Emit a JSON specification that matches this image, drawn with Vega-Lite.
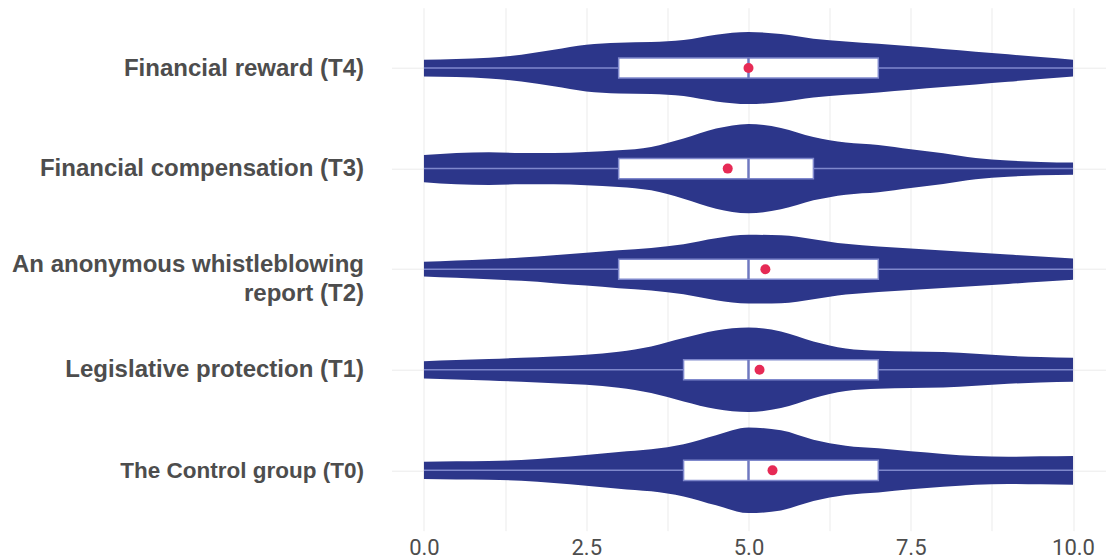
{
  "$schema": "https://vega.github.io/schema/vega-lite/v6.json",
  "width": 714,
  "height": 523,
  "autosize": {"type": "none"},
  "padding": {"left": 391.5, "top": 7.7, "right": 0, "bottom": 29.3},
  "background": "white",
  "config": {
    "view": {"stroke": null},
    "axis": {"gridColor": "#ebebeb", "gridWidth": 1, "domain": false, "ticks": false, "title": null}
  },
  "datasets": {
    "violin": [
      {"group": "Financial reward (T4)", "v": 0, "w": 0.083},
      {"group": "Financial reward (T4)", "v": 0.5, "w": 0.090},
      {"group": "Financial reward (T4)", "v": 1, "w": 0.103},
      {"group": "Financial reward (T4)", "v": 1.5, "w": 0.133},
      {"group": "Financial reward (T4)", "v": 2, "w": 0.182},
      {"group": "Financial reward (T4)", "v": 2.5, "w": 0.232},
      {"group": "Financial reward (T4)", "v": 3, "w": 0.252},
      {"group": "Financial reward (T4)", "v": 3.5, "w": 0.259},
      {"group": "Financial reward (T4)", "v": 4, "w": 0.279},
      {"group": "Financial reward (T4)", "v": 4.5, "w": 0.332},
      {"group": "Financial reward (T4)", "v": 5, "w": 0.358},
      {"group": "Financial reward (T4)", "v": 5.5, "w": 0.338},
      {"group": "Financial reward (T4)", "v": 6, "w": 0.292},
      {"group": "Financial reward (T4)", "v": 6.5, "w": 0.265},
      {"group": "Financial reward (T4)", "v": 7, "w": 0.242},
      {"group": "Financial reward (T4)", "v": 7.5, "w": 0.216},
      {"group": "Financial reward (T4)", "v": 8, "w": 0.189},
      {"group": "Financial reward (T4)", "v": 8.5, "w": 0.163},
      {"group": "Financial reward (T4)", "v": 9, "w": 0.136},
      {"group": "Financial reward (T4)", "v": 9.5, "w": 0.109},
      {"group": "Financial reward (T4)", "v": 10, "w": 0.083},
      {"group": "Financial compensation (T3)", "v": 0, "w": 0.136},
      {"group": "Financial compensation (T3)", "v": 0.5, "w": 0.156},
      {"group": "Financial compensation (T3)", "v": 1, "w": 0.163},
      {"group": "Financial compensation (T3)", "v": 1.5, "w": 0.156},
      {"group": "Financial compensation (T3)", "v": 2, "w": 0.156},
      {"group": "Financial compensation (T3)", "v": 2.5, "w": 0.166},
      {"group": "Financial compensation (T3)", "v": 3, "w": 0.182},
      {"group": "Financial compensation (T3)", "v": 3.5, "w": 0.216},
      {"group": "Financial compensation (T3)", "v": 4, "w": 0.299},
      {"group": "Financial compensation (T3)", "v": 4.5, "w": 0.398},
      {"group": "Financial compensation (T3)", "v": 5, "w": 0.444},
      {"group": "Financial compensation (T3)", "v": 5.5, "w": 0.405},
      {"group": "Financial compensation (T3)", "v": 6, "w": 0.315},
      {"group": "Financial compensation (T3)", "v": 6.5, "w": 0.259},
      {"group": "Financial compensation (T3)", "v": 7, "w": 0.235},
      {"group": "Financial compensation (T3)", "v": 7.5, "w": 0.192},
      {"group": "Financial compensation (T3)", "v": 8, "w": 0.153},
      {"group": "Financial compensation (T3)", "v": 8.5, "w": 0.106},
      {"group": "Financial compensation (T3)", "v": 9, "w": 0.080},
      {"group": "Financial compensation (T3)", "v": 9.5, "w": 0.066},
      {"group": "Financial compensation (T3)", "v": 10, "w": 0.060},
      {"group": "An anonymous whistleblowing report (T2)", "v": 0, "w": 0.073},
      {"group": "An anonymous whistleblowing report (T2)", "v": 0.5, "w": 0.086},
      {"group": "An anonymous whistleblowing report (T2)", "v": 1, "w": 0.100},
      {"group": "An anonymous whistleblowing report (T2)", "v": 1.5, "w": 0.116},
      {"group": "An anonymous whistleblowing report (T2)", "v": 2, "w": 0.139},
      {"group": "An anonymous whistleblowing report (T2)", "v": 2.5, "w": 0.163},
      {"group": "An anonymous whistleblowing report (T2)", "v": 3, "w": 0.189},
      {"group": "An anonymous whistleblowing report (T2)", "v": 3.5, "w": 0.212},
      {"group": "An anonymous whistleblowing report (T2)", "v": 4, "w": 0.249},
      {"group": "An anonymous whistleblowing report (T2)", "v": 4.5, "w": 0.308},
      {"group": "An anonymous whistleblowing report (T2)", "v": 5, "w": 0.342},
      {"group": "An anonymous whistleblowing report (T2)", "v": 5.5, "w": 0.338},
      {"group": "An anonymous whistleblowing report (T2)", "v": 6, "w": 0.299},
      {"group": "An anonymous whistleblowing report (T2)", "v": 6.5, "w": 0.252},
      {"group": "An anonymous whistleblowing report (T2)", "v": 7, "w": 0.226},
      {"group": "An anonymous whistleblowing report (T2)", "v": 7.5, "w": 0.206},
      {"group": "An anonymous whistleblowing report (T2)", "v": 8, "w": 0.186},
      {"group": "An anonymous whistleblowing report (T2)", "v": 8.5, "w": 0.166},
      {"group": "An anonymous whistleblowing report (T2)", "v": 9, "w": 0.146},
      {"group": "An anonymous whistleblowing report (T2)", "v": 9.5, "w": 0.126},
      {"group": "An anonymous whistleblowing report (T2)", "v": 10, "w": 0.106},
      {"group": "Legislative protection (T1)", "v": 0, "w": 0.086},
      {"group": "Legislative protection (T1)", "v": 0.5, "w": 0.096},
      {"group": "Legislative protection (T1)", "v": 1, "w": 0.106},
      {"group": "Legislative protection (T1)", "v": 1.5, "w": 0.119},
      {"group": "Legislative protection (T1)", "v": 2, "w": 0.133},
      {"group": "Legislative protection (T1)", "v": 2.5, "w": 0.149},
      {"group": "Legislative protection (T1)", "v": 3, "w": 0.179},
      {"group": "Legislative protection (T1)", "v": 3.5, "w": 0.232},
      {"group": "Legislative protection (T1)", "v": 4, "w": 0.315},
      {"group": "Legislative protection (T1)", "v": 4.5, "w": 0.391},
      {"group": "Legislative protection (T1)", "v": 5, "w": 0.421},
      {"group": "Legislative protection (T1)", "v": 5.5, "w": 0.381},
      {"group": "Legislative protection (T1)", "v": 6, "w": 0.282},
      {"group": "Legislative protection (T1)", "v": 6.5, "w": 0.212},
      {"group": "Legislative protection (T1)", "v": 7, "w": 0.189},
      {"group": "Legislative protection (T1)", "v": 7.5, "w": 0.182},
      {"group": "Legislative protection (T1)", "v": 8, "w": 0.176},
      {"group": "Legislative protection (T1)", "v": 8.5, "w": 0.159},
      {"group": "Legislative protection (T1)", "v": 9, "w": 0.139},
      {"group": "Legislative protection (T1)", "v": 9.5, "w": 0.126},
      {"group": "Legislative protection (T1)", "v": 10, "w": 0.119},
      {"group": "The Control group (T0)", "v": 0, "w": 0.086},
      {"group": "The Control group (T0)", "v": 0.5, "w": 0.090},
      {"group": "The Control group (T0)", "v": 1, "w": 0.093},
      {"group": "The Control group (T0)", "v": 1.5, "w": 0.103},
      {"group": "The Control group (T0)", "v": 2, "w": 0.126},
      {"group": "The Control group (T0)", "v": 2.5, "w": 0.153},
      {"group": "The Control group (T0)", "v": 3, "w": 0.182},
      {"group": "The Control group (T0)", "v": 3.5, "w": 0.209},
      {"group": "The Control group (T0)", "v": 4, "w": 0.259},
      {"group": "The Control group (T0)", "v": 4.5, "w": 0.348},
      {"group": "The Control group (T0)", "v": 5, "w": 0.425},
      {"group": "The Control group (T0)", "v": 5.5, "w": 0.398},
      {"group": "The Control group (T0)", "v": 6, "w": 0.305},
      {"group": "The Control group (T0)", "v": 6.5, "w": 0.245},
      {"group": "The Control group (T0)", "v": 7, "w": 0.219},
      {"group": "The Control group (T0)", "v": 7.5, "w": 0.189},
      {"group": "The Control group (T0)", "v": 8, "w": 0.163},
      {"group": "The Control group (T0)", "v": 8.5, "w": 0.143},
      {"group": "The Control group (T0)", "v": 9, "w": 0.136},
      {"group": "The Control group (T0)", "v": 9.5, "w": 0.139},
      {"group": "The Control group (T0)", "v": 10, "w": 0.143}
    ],
    "stats": [
      {"group": "Financial reward (T4)", "min": 0, "q1": 3, "median": 5, "q3": 7, "max": 10, "mean": 5.0},
      {"group": "Financial compensation (T3)", "min": 0, "q1": 3, "median": 5, "q3": 6, "max": 10, "mean": 4.68},
      {"group": "An anonymous whistleblowing report (T2)", "min": 0, "q1": 3, "median": 5, "q3": 7, "max": 10, "mean": 5.26},
      {"group": "Legislative protection (T1)", "min": 0, "q1": 4, "median": 5, "q3": 7, "max": 10, "mean": 5.17},
      {"group": "The Control group (T0)", "min": 0, "q1": 4, "median": 5, "q3": 7, "max": 10, "mean": 5.37}
    ]
  },
  "encoding": {
    "x": {
      "type": "quantitative",
      "scale": {"domain": [-0.5, 10.5], "nice": false, "zero": false},
      "axis": {
        "values": [0, 1.25, 2.5, 3.75, 5, 6.25, 7.5, 8.75, 10],
        "labelExpr": "datum.value % 2.5 == 0 ? format(datum.value, '.1f') : ''",
        "labelFont": "Roboto",
        "labelFontSize": 22,
        "labelColor": "#4d4d4d",
        "labelPadding": 7,
        "grid": true
      }
    },
    "y": {
      "type": "quantitative",
      "scale": {"domain": [-0.6, 4.6], "nice": false, "zero": false},
      "axis": {
        "values": [0, 1, 2, 3, 4],
        "labelExpr": "datum.value == 0 ? 'The Control group (T0)' : datum.value == 1 ? 'Legislative protection (T1)' : datum.value == 2 ? ['An anonymous whistleblowing', 'report (T2)'] : datum.value == 3 ? 'Financial compensation (T3)' : 'Financial reward (T4)'",
        "labelFont": "Liberation Sans",
        "labelFontWeight": "bold",
        "labelFontSize": {"condition": {"test": "datum.value == 0", "value": 22.5}, "value": 24},
        "labelColor": "#4d4d4d",
        "labelLineHeight": 29,
        "labelPadding": 28,
        "labelLimit": 400,
        "labelOffset": {"condition": {"test": "datum.value == 2", "value": -5}, "value": 0},
        "grid": true
      }
    }
  },
  "layer": [
    {
      "data": {"name": "violin"},
      "transform": [
        {"calculate": "indexof(['The Control group (T0)', 'Legislative protection (T1)', 'An anonymous whistleblowing report (T2)', 'Financial compensation (T3)', 'Financial reward (T4)'], datum.group)", "as": "pos"},
        {"calculate": "datum.pos + datum.w", "as": "hi"},
        {"calculate": "datum.pos - datum.w", "as": "lo"}
      ],
      "mark": {"type": "area", "orient": "vertical", "interpolate": "monotone", "color": "#2c368a"},
      "encoding": {
        "x": {"field": "v"},
        "y": {"field": "hi"},
        "y2": {"field": "lo"},
        "detail": {"field": "group", "type": "nominal"}
      }
    },
    {
      "data": {"name": "stats"},
      "transform": [
        {"calculate": "indexof(['The Control group (T0)', 'Legislative protection (T1)', 'An anonymous whistleblowing report (T2)', 'Financial compensation (T3)', 'Financial reward (T4)'], datum.group)", "as": "pos"},
        {"calculate": "datum.pos + 0.1", "as": "bhi"},
        {"calculate": "datum.pos - 0.1", "as": "blo"}
      ],
      "layer": [
        {
          "mark": {"type": "rule", "color": "#7f88cc", "strokeWidth": 1.5},
          "encoding": {"x": {"field": "min"}, "x2": {"field": "max"}, "y": {"field": "pos"}}
        },
        {
          "mark": {"type": "rect", "fill": "white", "stroke": "#7f88cc", "strokeWidth": 1.5},
          "encoding": {"x": {"field": "q1"}, "x2": {"field": "q3"}, "y": {"field": "bhi"}, "y2": {"field": "blo"}}
        },
        {
          "mark": {"type": "rule", "color": "#6f78c0", "strokeWidth": 2.5},
          "encoding": {"x": {"field": "median"}, "y": {"field": "bhi"}, "y2": {"field": "blo"}}
        },
        {
          "mark": {"type": "point", "filled": true, "opacity": 1, "color": "#e62a55", "size": 100},
          "encoding": {"x": {"field": "mean"}, "y": {"field": "pos"}}
        }
      ]
    }
  ]
}
